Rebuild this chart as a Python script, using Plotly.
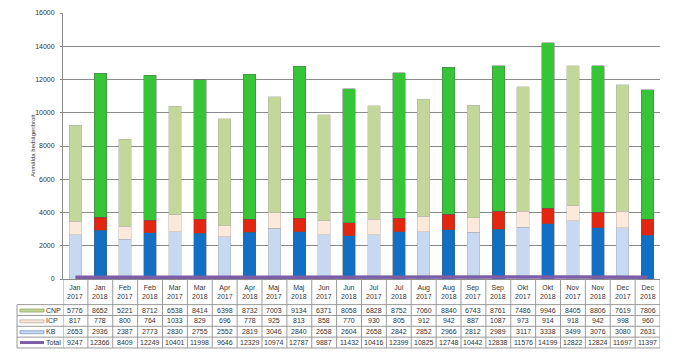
import plotly.graph_objects as go

# ---------------- data ----------------
months = ["Jan", "Jan", "Feb", "Feb", "Mar", "Mar", "Apr", "Apr", "Maj", "Maj", "Jun", "Jun",
          "Jul", "Jul", "Aug", "Aug", "Sep", "Sep", "Okt", "Okt", "Nov", "Nov", "Dec", "Dec"]
years = ["2017", "2018"] * 12
series_names = ["CNP", "ICP", "KB", "Total"]
cnp = [5776, 8652, 5221, 8712, 6538, 8414, 6398, 8732, 7003, 9134, 6371, 8058,
       6828, 8752, 7060, 8840, 6743, 8761, 7486, 9946, 8405, 8806, 7619, 7806]
icp = [817, 778, 800, 764, 1033, 829, 696, 778, 925, 813, 858, 770,
       930, 805, 912, 942, 887, 1087, 973, 914, 918, 942, 998, 960]
kb = [2653, 2936, 2387, 2773, 2830, 2755, 2552, 2819, 3046, 2840, 2658, 2604,
      2658, 2842, 2852, 2966, 2812, 2989, 3117, 3338, 3499, 3076, 3080, 2631]
total = [9247, 12366, 8409, 12249, 10401, 11998, 9646, 12329, 10974, 12787, 9887, 11432,
         10416, 12399, 10825, 12748, 10442, 12838, 11576, 14199, 12822, 12824, 11697, 11397]
y_ticks = [0, 2000, 4000, 6000, 8000, 10000, 12000, 14000, 16000]
y_tick_labels = ["0", "2000", "4000", "6000", "8000", "10000", "12000", "14000", "16000"]
y_title = "Anmälda bedrägeribrott"

# ---------------- styling ----------------
W, H = 677, 356
L, R, T, B = 63, 660, 9, 279  # plot area in pixels
n = len(months)
idx = list(range(n))

light = {"KB": "#c6d9f1", "ICP": "#fde9d9", "CNP": "#c4d79b"}
dark = {"KB": "#1270c4", "ICP": "#e3260f", "CNP": "#36c536"}
edge_light = "#a6a6a6"
edge_dark = "#5a5a5a"
txt = "#333333"
grid = "#8a8a8a"
FONT = "Liberation Sans"


def colors(key):
    return [light[key] if y == "2017" else dark[key] for y in years]


edges = [edge_light if y == "2017" else edge_dark for y in years]

fig = go.Figure()
for name, vals in [("KB", kb), ("ICP", icp), ("CNP", cnp)]:
    fig.add_trace(go.Bar(
        x=idx, y=vals, name=name, width=0.5,
        marker=dict(color=colors(name), line=dict(color=edges, width=0.4)),
        showlegend=False, hoverinfo="y+name"))

fig.add_trace(go.Scatter(
    x=idx, y=total, name="Total", yaxis="y2", mode="lines",
    line=dict(color="#7b5ea6", width=3.5), showlegend=False))


def py(Y):
    return (B - Y) / (B - T)


def px(X):
    return (X - L) / (R - L)


shapes = []
annotations = []
line_c = "#9a9a9a"
row_edges = [305, 316, 327, 338, 349]
# horizontal table lines
for Y in row_edges:
    shapes.append(dict(type="line", xref="paper", yref="paper", x0=px(17), x1=1,
                       y0=py(Y), y1=py(Y), line=dict(color=line_c, width=1)))
# vertical table lines
for i in range(n + 1):
    shapes.append(dict(type="line", xref="x", yref="paper", x0=i - 0.5, x1=i - 0.5,
                       y0=0, y1=py(349), line=dict(color=line_c, width=1)))
shapes.append(dict(type="line", xref="paper", yref="paper", x0=px(17), x1=px(17),
                   y0=py(305), y1=py(349), line=dict(color=line_c, width=1)))

# header labels
for i in idx:
    annotations.append(dict(xref="x", yref="paper", x=i, y=py(292),
                            text=f"{months[i]}<br>{years[i]}", showarrow=False,
                            font=dict(size=7, color=txt, family=FONT), yanchor="middle",
                            align="center"))
# rows
rows = [(cnp, 310.5), (icp, 321.5), (kb, 332.5), (total, 343.5)]
for (vals, Yc), nm in zip(rows, series_names):
    for i in idx:
        annotations.append(dict(xref="x", yref="paper", x=i, y=py(Yc),
                                text=str(vals[i]), showarrow=False,
                                font=dict(size=7, color=txt, family=FONT), yanchor="middle"))
    annotations.append(dict(xref="paper", yref="paper", x=px(44), y=py(Yc), xanchor="left",
                            text=nm, showarrow=False,
                            font=dict(size=7, color=txt, family=FONT), yanchor="middle"))

# legend swatches
sw = [("CNP", light["CNP"], "#8ea35a"), ("ICP", light["ICP"], "#b8a898"), ("KB", light["KB"], "#7f9cc0")]
for (nm, fc, lc), (vals, Yc) in zip(sw, rows[:3]):
    shapes.append(dict(type="rect", xref="paper", yref="paper", x0=px(20), x1=px(44),
                       y0=py(Yc + 2), y1=py(Yc - 1), fillcolor=fc, line=dict(color=lc, width=0.8)))
shapes.append(dict(type="line", xref="paper", yref="paper", x0=px(20), x1=px(44),
                   y0=py(343.5), y1=py(343.5), line=dict(color="#7b5ea6", width=3)))

# y-axis title
annotations.append(dict(xref="paper", yref="paper", x=px(28), y=0.5, text=y_title,
                        textangle=-90, showarrow=False,
                        font=dict(size=6, color=txt, family=FONT)))

fig.update_layout(
    width=W, height=H,
    margin=dict(l=L, r=W - R, t=T, b=H - B, pad=0),
    paper_bgcolor="white", plot_bgcolor="white",
    barmode="stack",
    xaxis=dict(range=[-0.5, n - 0.5], showticklabels=False, showgrid=False,
               zeroline=False, showline=True, linecolor=grid, linewidth=1, ticks=""),
    yaxis=dict(range=[0, 16000], tickvals=y_ticks, ticktext=y_tick_labels,
               showgrid=True, gridcolor=grid,
               gridwidth=1, zeroline=False, showline=True, linecolor=grid, linewidth=1,
               ticks="outside", ticklen=2, tickcolor=grid, ticklabelstandoff=4,
               tickfont=dict(size=7, color=txt, family=FONT)),
    yaxis2=dict(range=[-30000, 6000000], overlaying="y", visible=False),
    shapes=shapes, annotations=annotations,
    font=dict(family=FONT),
)

fig.write_html("out.html", config={"displayModeBar": False},
               post_script="document.body.style.margin='0';")
